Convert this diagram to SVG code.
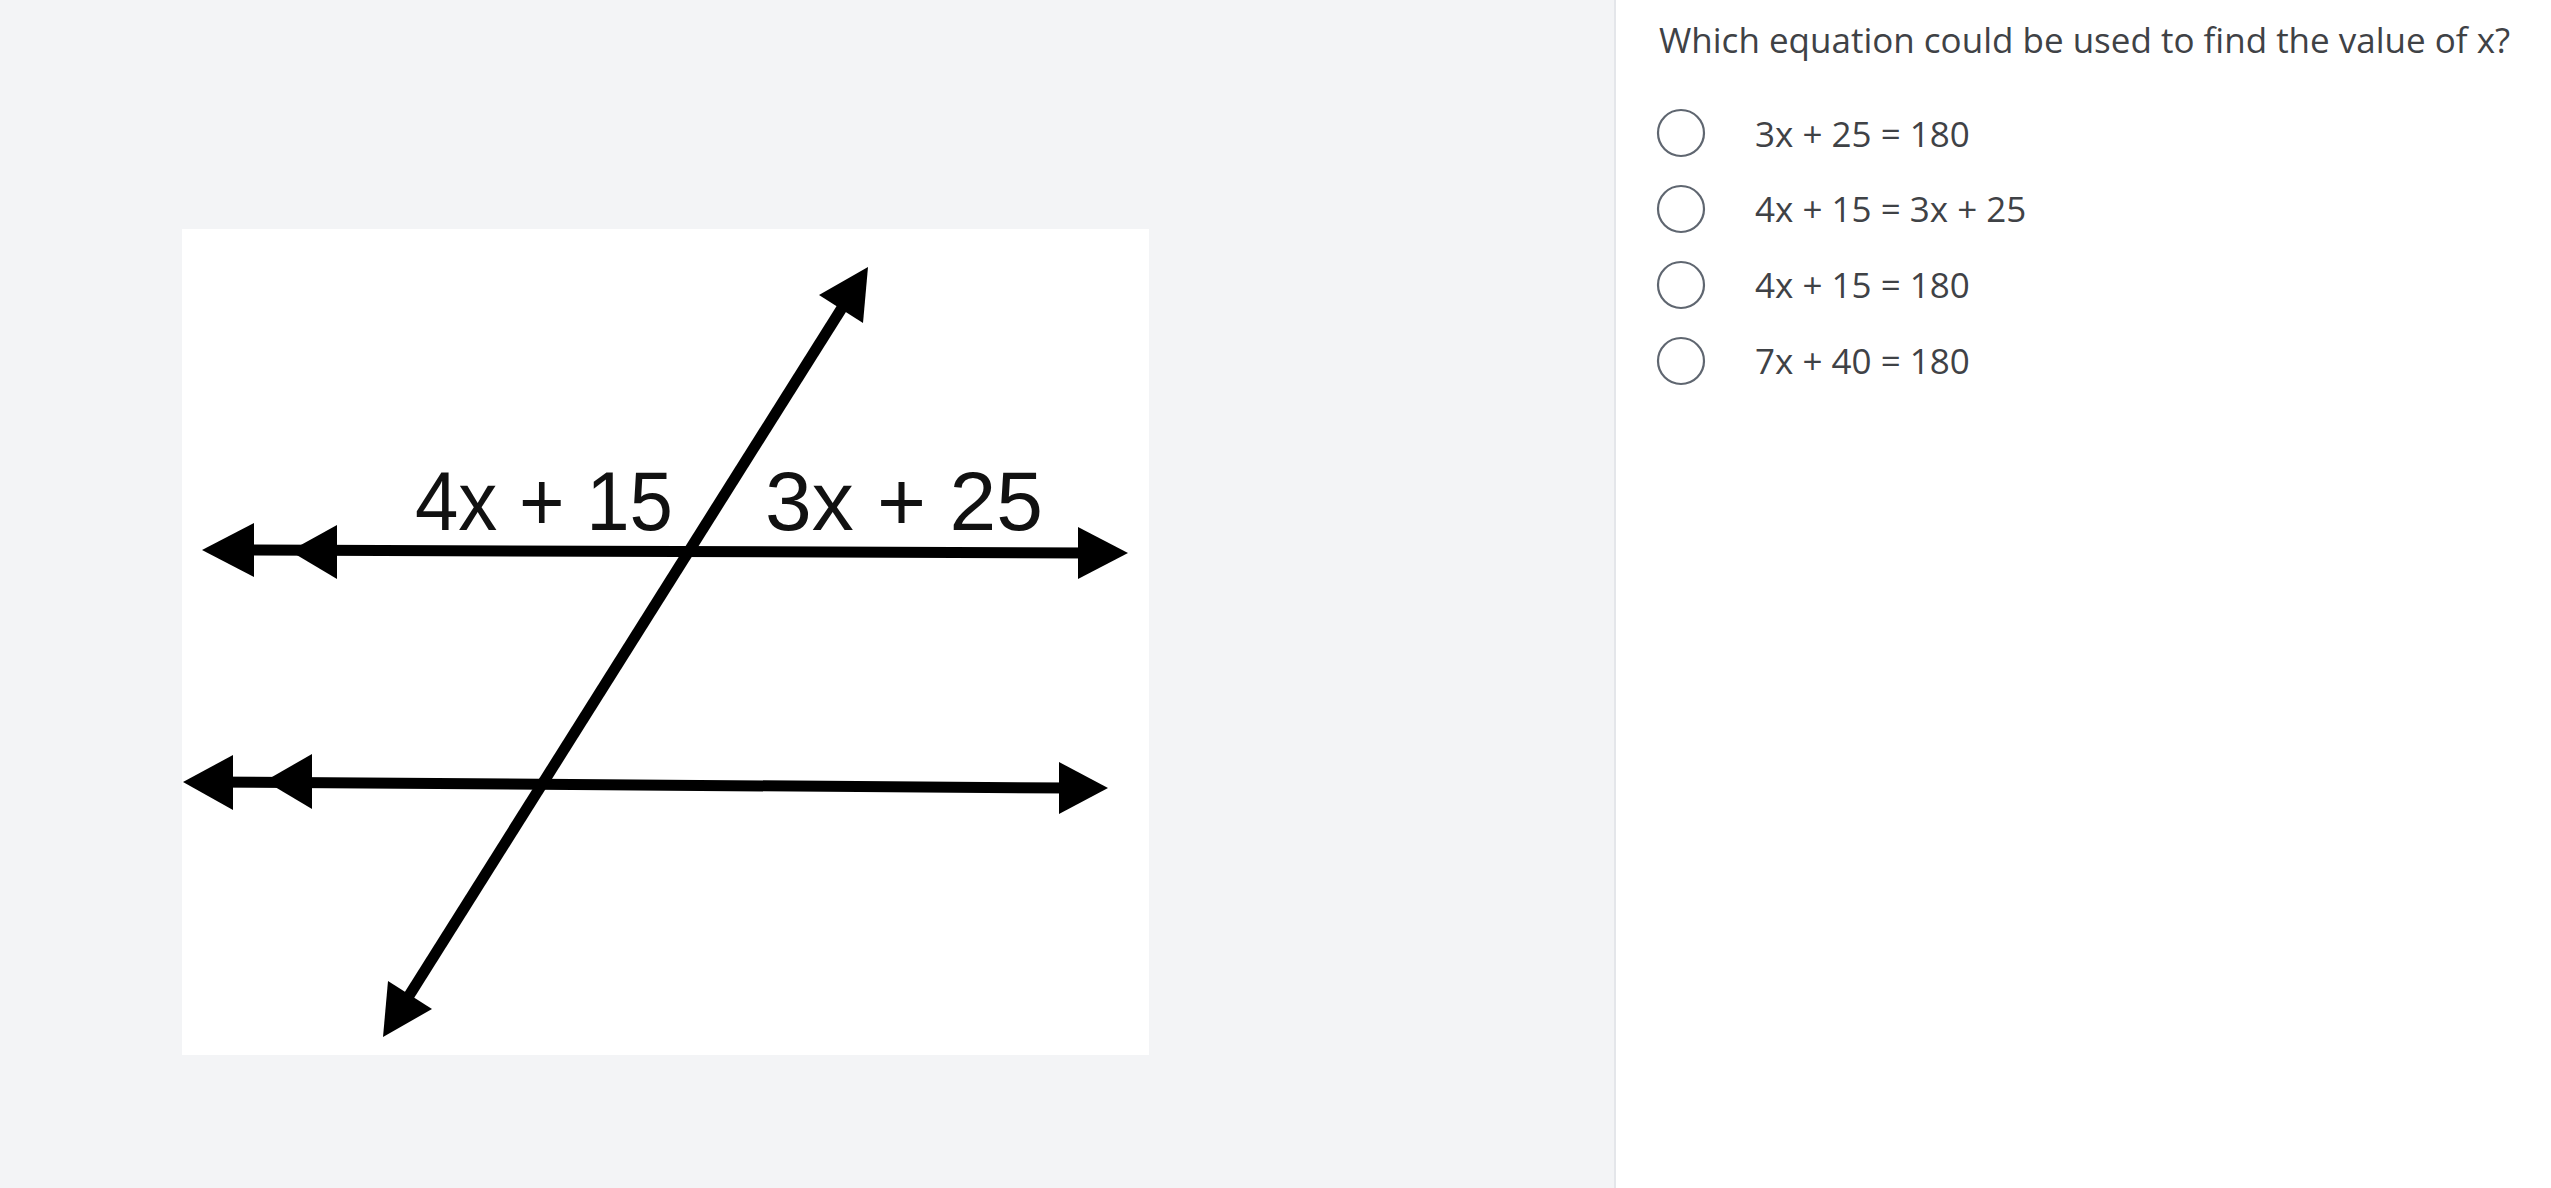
<svg xmlns="http://www.w3.org/2000/svg" width="2551" height="1188" viewBox="0 0 2551 1188">
<style>
.ln{stroke:#000;stroke-width:11;stroke-linecap:butt;fill:none}
.ah{fill:#000}
.lbl{font-family:"Liberation Sans",Arial,sans-serif;font-size:84px;fill:#111}
.q{font-family:"Open Sans","Noto Sans",sans-serif;font-size:35px;fill:#3f4246}
.radio{fill:#fff;stroke:#5f6670;stroke-width:2.2}
</style>
<rect x="0" y="0" width="2551" height="1188" fill="#f3f4f6"/>
<rect x="1616" y="0" width="935" height="1188" fill="#ffffff"/>
<rect x="1614" y="0" width="2" height="1188" fill="#e4e6ea"/>
<g id="figure">
<rect x="182" y="229" width="967" height="826" fill="#ffffff"/>
<g id="connectors">
<line class="ln" x1="225" y1="550" x2="1090" y2="553"/>
<line class="ln" x1="205" y1="782" x2="1070" y2="788"/>
<line class="ln" stroke-width="10" x1="400" y1="1010" x2="852" y2="292"/>
<polygon class="ah" points="202,550 254,523 254,577"/>
<polygon class="ah" points="290,551 337,525 337,579"/>
<polygon class="ah" points="1128,553 1078,527 1078,579"/>
<polygon class="ah" points="183,782 233,755 233,810"/>
<polygon class="ah" points="265,781 312,754 312,809"/>
<polygon class="ah" points="1108,788 1059,762 1059,814"/>
<polygon class="ah" points="868,267 819,295 863,323"/>
<polygon class="ah" points="383,1037 388,981 432,1009"/>
</g>
<g id="label-left"><text class="lbl" x="415" y="530" textLength="258" lengthAdjust="spacingAndGlyphs">4x + 15</text></g>
<g id="label-right"><text class="lbl" x="765" y="530" textLength="278" lengthAdjust="spacingAndGlyphs">3x + 25</text></g>
</g>
<g id="question">
<text class="q" x="1659" y="53">Which equation could be used to find the value of x?</text>
</g>
<g id="option-1"><circle class="radio" cx="1681" cy="133" r="23"/><text class="q" x="1755" y="147">3x + 25 = 180</text></g>
<g id="option-2"><circle class="radio" cx="1681" cy="209" r="23"/><text class="q" x="1755" y="222">4x + 15 = 3x + 25</text></g>
<g id="option-3"><circle class="radio" cx="1681" cy="285" r="23"/><text class="q" x="1755" y="298">4x + 15 = 180</text></g>
<g id="option-4"><circle class="radio" cx="1681" cy="361" r="23"/><text class="q" x="1755" y="374">7x + 40 = 180</text></g>
</svg>
